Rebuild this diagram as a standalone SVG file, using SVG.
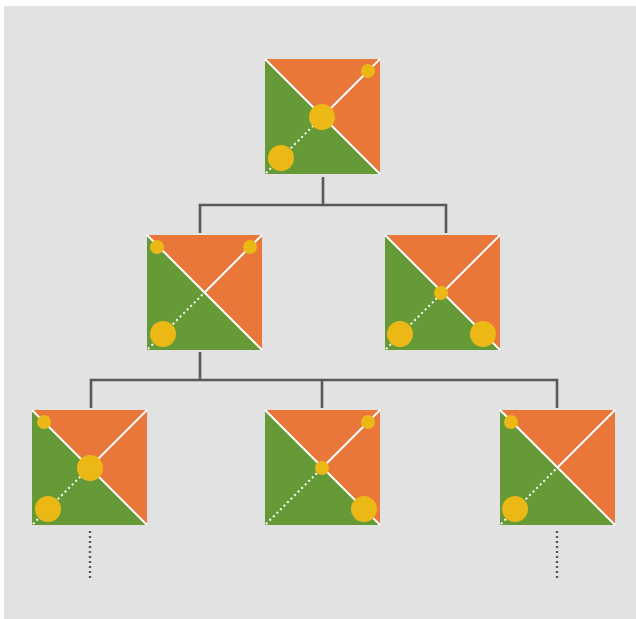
<svg xmlns="http://www.w3.org/2000/svg" width="636" height="619" viewBox="0 0 636 619">
<defs>
<style>
.bg{fill:#e2e2e2}
.g{fill:#669a36}
.o{fill:#ea773a}
.ln{stroke:#fff;stroke-width:2;fill:none}
.dt{stroke:#fff;stroke-width:2;fill:none;stroke-dasharray:2 3}
.c{fill:#ebb816}
.conn{stroke:#58595b;stroke-width:2.6;fill:none;stroke-linejoin:miter}
.dots{stroke:#58595b;stroke-width:2.4;fill:none;stroke-dasharray:2 3}
</style>
<g id="tile">
<path class="o" d="M0,0H115V115Z"/>
<path class="g" d="M0,0V115H115Z"/>
<path class="ln" d="M0,0L115,115M57.5,57.5L115,0"/>
<path class="dt" d="M1,114L57.5,57.5"/>
</g>
</defs>
<rect class="bg" x="4" y="6" width="632" height="613"/>
<g id="connectors">
<path class="conn" d="M323,177V205M200,233V205H446V233"/>
<path class="conn" d="M200,352V380M91,408V380H557V408M322,380V408"/>
<path class="dots" d="M90,531V578M557,531V578"/>
</g>
<g id="n1">
<use href="#tile" x="265" y="59"/>
<circle class="c" cx="368" cy="71" r="7"/>
<circle class="c" cx="322" cy="117" r="13"/>
<circle class="c" cx="281" cy="158" r="13"/>
</g>
<g id="n2">
<use href="#tile" x="147" y="235"/>
<circle class="c" cx="157" cy="247" r="7"/>
<circle class="c" cx="250" cy="247" r="7"/>
<circle class="c" cx="163" cy="334" r="13"/>
</g>
<g id="n3">
<use href="#tile" x="385" y="235"/>
<circle class="c" cx="441" cy="293" r="7"/>
<circle class="c" cx="400" cy="334" r="13"/>
<circle class="c" cx="483" cy="334" r="13"/>
</g>
<g id="n4">
<use href="#tile" x="32" y="410"/>
<circle class="c" cx="44" cy="422" r="7"/>
<circle class="c" cx="90" cy="468" r="13"/>
<circle class="c" cx="48" cy="509" r="13"/>
</g>
<g id="n5">
<use href="#tile" x="265" y="410"/>
<circle class="c" cx="368" cy="422" r="7"/>
<circle class="c" cx="322" cy="468" r="7"/>
<circle class="c" cx="364" cy="509" r="13"/>
</g>
<g id="n6">
<use href="#tile" x="500" y="410"/>
<circle class="c" cx="511" cy="422" r="7"/>
<circle class="c" cx="515" cy="509" r="13"/>
</g>
</svg>
